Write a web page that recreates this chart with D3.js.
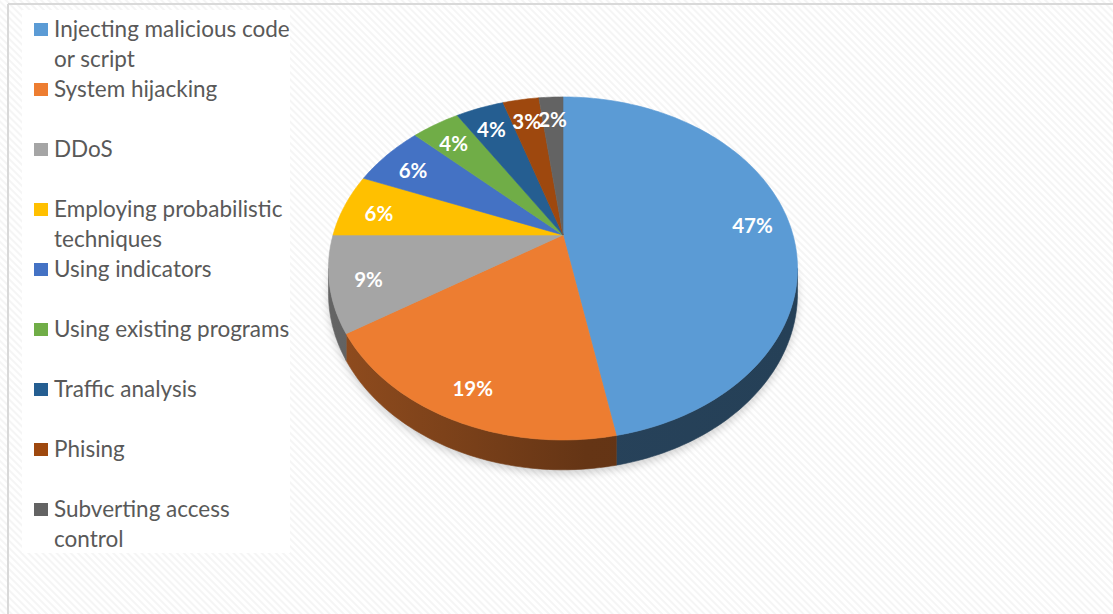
<!DOCTYPE html>
<html>
<head>
<meta charset="utf-8">
<script src="https://cdn.jsdelivr.net/npm/d3@7"></script>
<style>
  html, body { margin: 0; padding: 0; background: #fff; }
  svg { display: block; }
</style>
</head>
<body>
<div id="chart"></div>
<script>
// categories and values (percent)
const categories = [
  "Injecting malicious code or script",
  "System hijacking",
  "DDoS",
  "Employing probabilistic techniques",
  "Using indicators",
  "Using existing programs",
  "Traffic analysis",
  "Phising",
  "Subverting access control"
];
const values = [47, 19, 9, 6, 6, 4, 4, 3, 2];
const colors = ["#5b9bd5", "#ed7d31", "#a5a5a5", "#ffc000", "#4472c4", "#70ad47", "#255e91", "#9e480e", "#636363"];
// legend lines (wrapped as in the picture)
const legendLines = [
  ["Injecting malicious code", "or script"],
  ["System hijacking"],
  ["DDoS"],
  ["Employing probabilistic", "techniques"],
  ["Using indicators"],
  ["Using existing programs"],
  ["Traffic analysis"],
  ["Phising"],
  ["Subverting access", "control"]
];

var width = 1113, height = 614;

var svg = d3.select("#chart").append("svg")
  .attr("width", width)
  .attr("height", height);

var defs = svg.append("defs");

// faint diagonal hatch background
var pat = defs.append("pattern")
  .attr("id", "hatch")
  .attr("width", 5).attr("height", 5)
  .attr("patternUnits", "userSpaceOnUse")
  .attr("patternTransform", "rotate(45)");
pat.append("rect").attr("width", 5).attr("height", 5).attr("fill", "#ffffff");
pat.append("rect").attr("width", 5).attr("height", 2).attr("fill", "#f5f5f5");

svg.append("rect").attr("width", width).attr("height", height).attr("fill", "url(#hatch)");

// frame lines top / left
svg.append("line").attr("x1", 8).attr("x2", width).attr("y1", 4).attr("y2", 4)
  .attr("stroke", "#d9d9d9").attr("stroke-width", 2);
svg.append("line").attr("x1", 8).attr("x2", 8).attr("y1", 4).attr("y2", height)
  .attr("stroke", "#d9d9d9").attr("stroke-width", 2);

// legend box
svg.append("rect").attr("x", 22).attr("y", 10).attr("width", 268).attr("height", 543)
  .attr("fill", "#ffffff");

// ---- 3D pie ----
var cx = 563, cy = 235, A = 230, B = 165, persp = 0.195, H = 24;

// project a point of the disc (angle from 12 o'clock, clockwise) to the screen
function proj(theta, r, depth) {
  var u = r * Math.sin(theta), v = -r * Math.cos(theta);
  var w = 1 - persp * v;
  return [cx + A * u / w, cy + (B * v + depth * H) / w];
}

function arcPts(a0, a1, r, depth) {
  var n = Math.max(2, Math.ceil(Math.abs(a1 - a0) / 0.02));
  var pts = [];
  for (var i = 0; i <= n; i++) pts.push(proj(a0 + (a1 - a0) * i / n, r, depth));
  return pts;
}

var pie = d3.pie().sort(null).value(d => d);
var arcs = pie(values);
var line = d3.line();

// visible side range
var thL = Math.acos(-persp), thR = 2 * Math.PI - thL;

// soft shadow under the pie
var blur = defs.append("filter").attr("id", "blur").attr("x", "-20%").attr("y", "-20%")
  .attr("width", "140%").attr("height", "140%");
blur.append("feGaussianBlur").attr("stdDeviation", 4);
svg.append("path")
  .attr("d", line(arcPts(0, 2 * Math.PI, 1, 1).map(p => [p[0], p[1] + 4])) + "Z")
  .attr("fill", "#000").attr("opacity", 0.18).attr("filter", "url(#blur)");

var sideG = svg.append("g");
arcs.forEach(function(d, i) {
  var s = Math.max(d.startAngle, thL), e = Math.min(d.endAngle, thR);
  if (e <= s) return;
  var c = d3.color(colors[i]);
  var gid = "side" + i;
  var g = defs.append("linearGradient").attr("id", gid)
    .attr("gradientUnits", "userSpaceOnUse")
    .attr("x1", cx - A).attr("x2", cx + A).attr("y1", 0).attr("y2", 0);
  g.append("stop").attr("offset", 0).attr("stop-color", c.darker(1.4));
  g.append("stop").attr("offset", 0.55).attr("stop-color", c.darker(2.4));
  g.append("stop").attr("offset", 1).attr("stop-color", c.darker(2.5));
  var pts = arcPts(s, e, 1, 0).concat(arcPts(e, s, 1, 1));
  sideG.append("path")
    .attr("d", line(pts) + "Z")
    .attr("fill", "url(#" + gid + ")")
    .attr("stroke", "url(#" + gid + ")")
    .attr("stroke-width", 0.6);
});

// top faces
var topG = svg.append("g");
arcs.forEach(function(d, i) {
  var pts = [proj(0, 0, 0)].concat(arcPts(d.startAngle, d.endAngle, 1, 0));
  topG.append("path")
    .attr("d", line(pts) + "Z")
    .attr("fill", colors[i])
    .attr("stroke", colors[i])
    .attr("stroke-width", 0.6);
});

// percentage labels
var total = d3.sum(values);
var labR = 0.84;
svg.append("g").selectAll("text")
  .data(arcs)
  .enter().append("text")
  .attr("x", d => proj((d.startAngle + d.endAngle) / 2, labR, 0)[0])
  .attr("y", d => proj((d.startAngle + d.endAngle) / 2, labR, 0)[1] + 3)
  .attr("text-anchor", "middle")
  .attr("dominant-baseline", "central")
  .attr("font-family", "Lato, 'Open Sans', sans-serif")
  .attr("font-weight", "bold")
  .attr("font-size", 20.5)
  .attr("fill", "#ffffff")
  .text(d => Math.round(d.value / total * 100) + "%");

// legend
var leg = svg.append("g").selectAll("g")
  .data(categories)
  .enter().append("g")
  .attr("transform", (d, i) => "translate(34," + (37 + i * 60) + ")");
leg.append("rect")
  .attr("x", 0).attr("y", -14).attr("width", 14).attr("height", 13)
  .attr("fill", (d, i) => colors[i]);
leg.append("text")
  .attr("x", 20)
  .attr("font-family", "Lato, sans-serif")
  .attr("font-size", 22.5)
  .attr("fill", "#595959")
  .selectAll("tspan")
  .data((d, i) => legendLines[i])
  .enter().append("tspan")
  .attr("x", 20)
  .attr("dy", (t, j) => j === 0 ? 0 : 30)
  .text(t => t);
</script>
</body>
</html>
